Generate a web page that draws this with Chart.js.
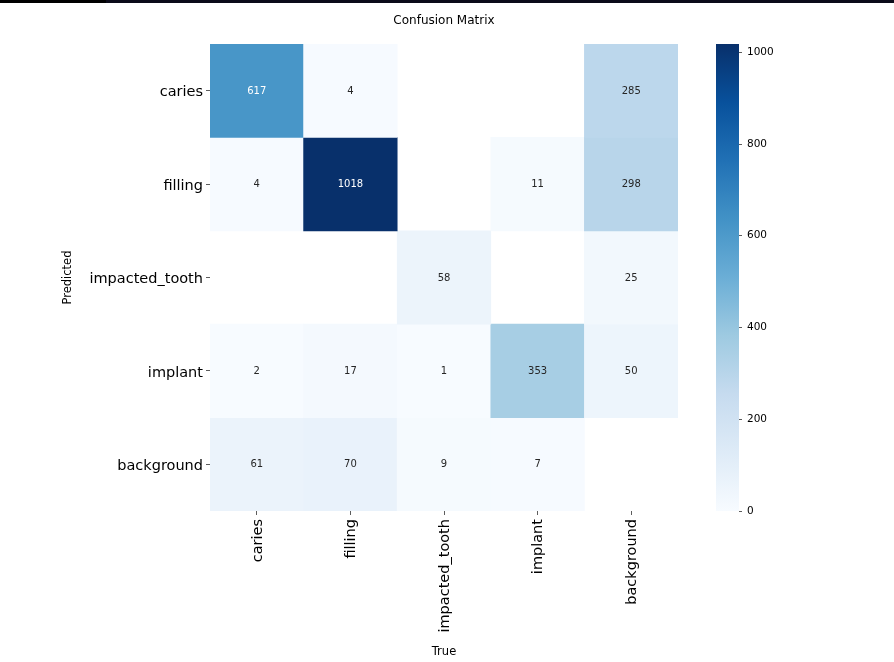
<!DOCTYPE html>
<html>
<head>
<meta charset="utf-8">
<script src="https://cdn.jsdelivr.net/npm/chart.js@4.4.1/dist/chart.umd.min.js"></script>
<style>
  html, body { margin: 0; padding: 0; background: #fff; }
  #wrap { position: relative; width: 894px; height: 662px; overflow: hidden; }
  #wrap canvas { position: absolute; left: 0; top: 0; width: 894px; height: 662px; }
  .strip { position: absolute; top: 0; height: 3px; }
</style>
</head>
<body>
<div id="wrap">
  <canvas id="matrix" width="894" height="662"></canvas>
  <canvas id="cbar" width="894" height="662"></canvas>
  <div class="strip" style="left:0;width:106px;background:#000"></div>
  <div class="strip" style="left:106px;right:0;background:#0b0b19"></div>
</div>
<script>
// class names (rows = predicted, columns = true)
const classNames = ["caries", "filling", "impacted_tooth", "implant", "background"];

// counts per predicted row
const predCaries     = [617,    4,  0,   0, 285];
const predFilling    = [  4, 1018,  0,  11, 298];
const predImpacted   = [  0,    0, 58,   0,  25];
const predImplant    = [  2,   17,  1, 353,  50];
const predBackground = [ 61,   70,  9,   7,   0];

const matrix = [predCaries, predFilling, predImpacted, predImplant, predBackground];
const vmax = Math.max(...matrix.flat());
const cbarTicks = [0, 200, 400, 600, 800, 1000];

// matplotlib "Blues"
const BLUES = ["#f7fbff", "#deebf7", "#c6dbef", "#9ecae1", "#6baed6", "#4292c6", "#2171b5", "#08519c", "#08306b"];

const hexToRgb = h => [1, 3, 5].map(i => parseInt(h.slice(i, i + 2), 16));

function blues(t) {
  t = Math.min(1, Math.max(0, t)) * (BLUES.length - 1);
  const i = Math.min(Math.floor(t), BLUES.length - 2);
  const f = t - i;
  const a = hexToRgb(BLUES[i]), b = hexToRgb(BLUES[i + 1]);
  return a.map((c, k) => Math.round(c + (b[k] - c) * f));
}

function luminance(rgb) {
  const lin = rgb.map(c => {
    c /= 255;
    return c <= 0.03928 ? c / 12.92 : Math.pow((c + 0.055) / 1.055, 2.4);
  });
  return 0.2126 * lin[0] + 0.7152 * lin[1] + 0.0722 * lin[2];
}

const rgbStr = c => `rgb(${c[0]},${c[1]},${c[2]})`;

Chart.defaults.font.family = "'DejaVu Sans', sans-serif";
Chart.defaults.color = "#000";

const cellLabels = {
  id: "cellLabels",
  afterDatasetsDraw(chart) {
    const { ctx } = chart;
    ctx.save();
    ctx.font = "10px 'DejaVu Sans', sans-serif";
    ctx.textAlign = "center";
    ctx.textBaseline = "middle";
    chart.data.datasets.forEach((ds, i) => {
      chart.getDatasetMeta(i).data.forEach((bar, j) => {
        const v = ds.counts[j];
        if (!v) return;
        ctx.fillStyle = luminance(ds.cellRgb[j]) > 0.408 ? "#262626" : "#ffffff";
        ctx.fillText(String(v), bar.x, (bar.y + bar.base) / 2 + 0.5);
      });
    });
    ctx.restore();
  }
};

const tickGrid = { drawOnChartArea: false, drawTicks: true, tickLength: 4, color: "#333", lineWidth: 0.8 };

new Chart(document.getElementById("matrix"), {
  type: "bar",
  data: {
    labels: classNames,
    datasets: matrix.map((row, r) => {
      const cellRgb = row.map(v => blues(v / vmax));
      return {
        label: classNames[r],
        data: row.map(v => (v > 0 ? [r, r + 1] : null)),
        counts: row,
        cellRgb,
        backgroundColor: cellRgb.map(rgbStr),
        borderWidth: 0,
        barPercentage: 1,
        categoryPercentage: 1,
        grouped: false
      };
    })
  },
  options: {
    responsive: false,
    animation: false,
    events: [],
    layout: { padding: { left: 61, right: 216, top: 13.6, bottom: 3 } },
    plugins: {
      legend: { display: false },
      tooltip: { enabled: false },
      title: {
        display: true,
        text: "Confusion Matrix",
        fullSize: false,
        color: "#000",
        font: { size: 12, weight: "normal" },
        padding: { top: 0, bottom: 16 }
      }
    },
    scales: {
      x: {
        type: "category",
        offset: true,
        grid: { ...tickGrid, offset: false },
        border: { display: false },
        ticks: { font: { size: 14.5 }, color: "#000", minRotation: 90, maxRotation: 90, padding: 4, autoSkip: false, labelOffset: 1 },
        title: { display: true, text: "True", color: "#000", font: { size: 11.5 }, padding: 0 },
        afterFit: s => { s.height = 148; }
      },
      y: {
        type: "linear",
        min: 0,
        max: classNames.length,
        reverse: true,
        afterBuildTicks: s => { s.ticks = classNames.map((_, i) => ({ value: i + 0.5 })); },
        grid: tickGrid,
        border: { display: false },
        ticks: { font: { size: 14.5 }, color: "#000", padding: 3, labelOffset: 2, callback: (v, i) => classNames[i] },
        title: { display: true, text: "Predicted", color: "#000", font: { size: 11.5 }, padding: 0 },
        afterFit: s => { s.width = 149; }
      }
    }
  },
  plugins: [cellLabels]
});

// colour bar
function barGradient(chart) {
  const area = chart.chartArea;
  if (!area) return BLUES[4];
  const g = chart.ctx.createLinearGradient(0, area.bottom, 0, area.top);
  BLUES.forEach((c, i) => g.addColorStop(i / (BLUES.length - 1), c));
  return g;
}

new Chart(document.getElementById("cbar"), {
  type: "bar",
  data: {
    labels: [""],
    datasets: [{
      data: [[0, vmax]],
      backgroundColor: ctx => barGradient(ctx.chart),
      borderWidth: 0,
      barPercentage: 1,
      categoryPercentage: 1
    }]
  },
  options: {
    responsive: false,
    animation: false,
    events: [],
    layout: { padding: { left: 716, right: 105, top: 44, bottom: 151 } },
    plugins: { legend: { display: false }, tooltip: { enabled: false } },
    scales: {
      x: { display: false },
      y: {
        position: "right",
        min: 0,
        max: vmax,
        afterBuildTicks: s => { s.ticks = cbarTicks.map(v => ({ value: v })); },
        grid: { ...tickGrid, tickLength: 3 },
        border: { display: false },
        ticks: { font: { size: 10.5 }, color: "#000", padding: 5, callback: v => String(v) },
        afterFit: s => { s.width = 50; }
      }
    }
  }
});
</script>
</body>
</html>
